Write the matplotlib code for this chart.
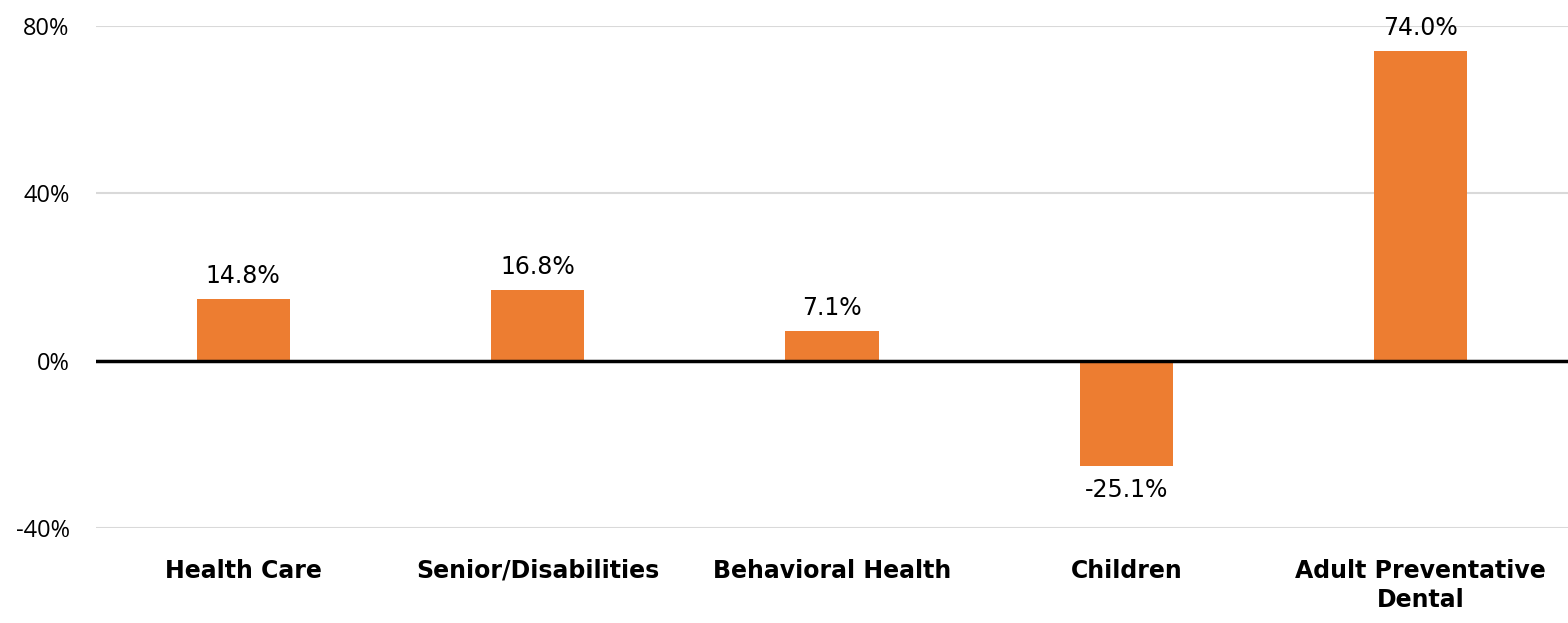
import matplotlib.pyplot as plt
from matplotlib.ticker import FuncFormatter

categories = ["Health Care", "Senior/Disabilities", "Behavioral Health", "Children", "Adult Preventative\nDental"]
changes = [14.8, 16.8, 7.1, -25.1, 74.0]
yticks = [-40, 0, 40, 80]

bar_color = "#ED7D31"

fig = plt.figure(figsize=(15.68, 6.23), dpi=100)
ax = fig.add_axes([96 / 1568, 1 - 528 / 623, 1 - 96 / 1568, (528 - 26) / 623])

x = range(len(categories))
bars = ax.bar(x, changes, width=0.316, color=bar_color, zorder=3)

ax.set_xlim(-0.5, len(categories) - 0.5)
ax.set_ylim(-40, 80)
ax.set_yticks(yticks)
ax.yaxis.set_major_formatter(FuncFormatter(lambda v, _: f"{v:.0f}%"))
ax.grid(axis="y", color="#d9d9d9", linewidth=1.5, zorder=0)
ax.axhline(0, color="black", linewidth=2.5, zorder=4)

for s in ax.spines.values():
    s.set_visible(False)
ax.tick_params(axis="y", length=0, pad=19, labelsize=17)
for lab in ax.get_yticklabels():
    lab.set_fontfamily("Open Sans")

ax.set_xticks(list(x))
ax.set_xticklabels(categories, fontsize=17, fontweight="bold", linespacing=1.3)
ax.tick_params(axis="x", length=0, pad=22)
for lab in ax.get_xticklabels():
    lab.set_verticalalignment("top")

for b, v in zip(bars, changes):
    cx = b.get_x() + b.get_width() / 2
    if v >= 0:
        ax.annotate(f"{v:.1f}%", (cx, v), xytext=(0, 8), textcoords="offset points",
                    ha="center", va="bottom", fontsize=17)
    else:
        ax.annotate(f"{v:.1f}%", (cx, v), xytext=(0, -9), textcoords="offset points",
                    ha="center", va="top", fontsize=17)

fig.savefig("out.png", dpi=100)
